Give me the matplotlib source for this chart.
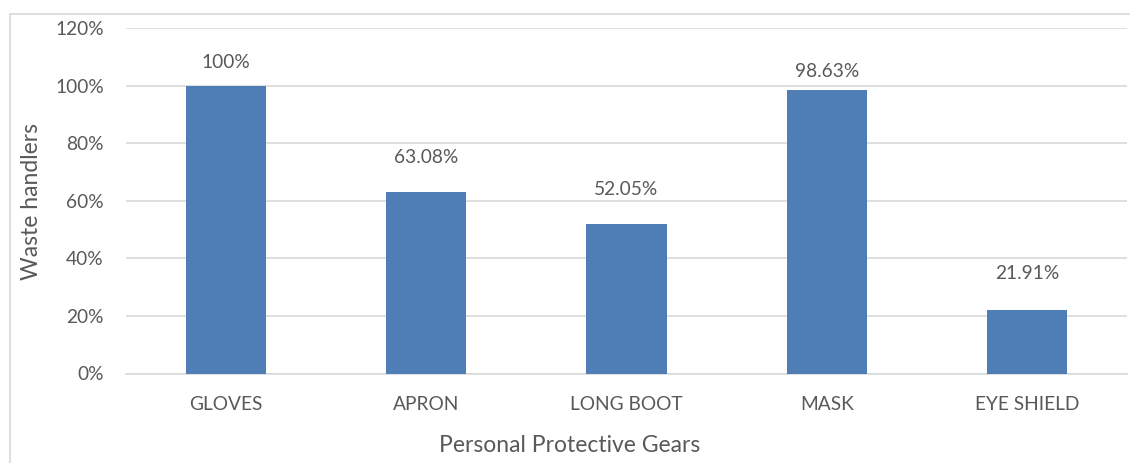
import matplotlib
matplotlib.use("Agg")
import matplotlib.pyplot as plt
from matplotlib.patches import Rectangle

categories = ["GLOVES", "APRON", "LONG BOOT", "MASK", "EYE SHIELD"]
values = [100, 63.08, 52.05, 98.63, 21.91]
labels = ["100%", "63.08%", "52.05%", "98.63%", "21.91%"]
yticks = [0, 20, 40, 60, 80, 100, 120]
label_offsets = [23, 34, 34, 18, 37]  # pixels above bar tops

plt.rcParams['font.family'] = ['Lato', 'DejaVu Sans']
txt = '#595959'
W, H = 1130, 463
fig = plt.figure(figsize=(W/100, H/100), dpi=100)
ax = fig.add_axes([126/W, (H-373.5)/H, 1001/W, 345.5/H])

x = list(range(len(categories)))
ax.bar(x, values, width=0.4, color='#4F7EB6', zorder=3)
ax.set_xlim(-0.5, len(categories)-0.5)
ax.set_ylim(0, 120)
ax.set_yticks(yticks)
ax.set_yticklabels([f"{t}%" for t in yticks])
ax.set_xticks(x)
ax.set_xticklabels(categories)
ax.tick_params(axis='both', length=0, colors=txt, labelsize=13.8)
ax.tick_params(axis='y', pad=16)
ax.tick_params(axis='x', pad=16.5)
ax.grid(axis='y', color='#D9D9D9', linewidth=1.2, zorder=0)
for s in ['top', 'right', 'left']:
    ax.spines[s].set_visible(False)
ax.spines['bottom'].set_color('#D9D9D9')
ax.spines['bottom'].set_linewidth(1.2)

for xi, v, lab, off in zip(x, values, labels, label_offsets):
    ax.annotate(lab, (xi, v), xytext=(0, off*0.72), textcoords='offset points',
                ha='center', va='center', color=txt, fontsize=13.8)

fig.text(32/W, 1-201/H, "Waste handlers", rotation=90, ha='center', va='center',
         color=txt, fontsize=16.5)
fig.text(570/W, 1-446/H, "Personal Protective Gears", ha='center', va='center',
         color=txt, fontsize=16.5)

fig.patches.append(Rectangle((9.5/W, -0.1), 1.2, (H-13.5)/H + 0.1, transform=fig.transFigure,
                             fill=False, edgecolor='#D9D9D9', linewidth=1.2))

fig.savefig("out.png", dpi=100)
